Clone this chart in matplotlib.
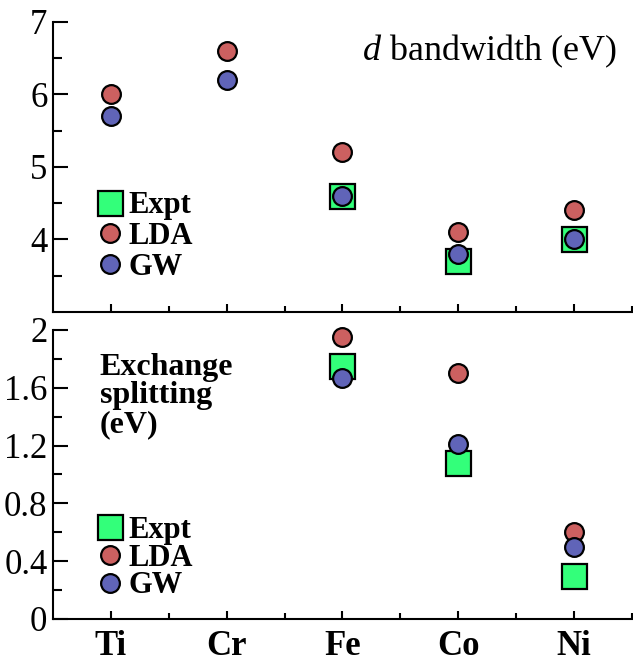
import matplotlib.pyplot as plt
from matplotlib.lines import Line2D
from matplotlib.ticker import MultipleLocator, FixedLocator, FuncFormatter

plt.rcParams['font.family'] = ['Liberation Serif', 'DejaVu Serif']
plt.rcParams['mathtext.fontset'] = 'custom'
plt.rcParams['mathtext.it'] = 'Liberation Serif:italic'
plt.rcParams['mathtext.rm'] = 'Liberation Serif'

elements = ['Ti', 'Cr', 'Fe', 'Co', 'Ni']

# d bandwidth (eV); None where no experiment point
bw_expt = [None, None, 4.6, 3.7, 4.0]
bw_lda = [6.0, 6.6, 5.2, 4.1, 4.4]
bw_gw = [5.7, 6.2, 4.6, 3.8, 4.0]

# exchange splitting (eV)
ex_expt = [None, None, 1.75, 1.08, 0.30]
ex_lda = [None, None, 1.95, 1.70, 0.60]
ex_gw = [None, None, 1.67, 1.21, 0.50]

c_expt = '#33ff7a'
c_lda = '#cc6060'
c_gw = '#6064b8'

sq = dict(marker='s', ms=18, mec='black', mew=1.6, ls='none', color=c_expt)
lda_st = dict(marker='o', ms=13.5, mec='black', mew=1.6, ls='none', color=c_lda)
gw_st = dict(marker='o', ms=13.5, mec='black', mew=1.6, ls='none', color=c_gw)

fig = plt.figure(figsize=(6.33, 6.65), dpi=100)
ax1 = fig.add_axes([0.0837, 0.5308, 0.9147, 0.4362])
ax2 = fig.add_axes([0.0837, 0.0692, 0.9147, 0.4346])


def pts(vals):
    xs = [i for i, v in enumerate(vals) if v is not None]
    ys = [v for v in vals if v is not None]
    return xs, ys


def style(ax, ex, ld, gw, spacing, anchor):
    ax.plot(*pts(ex), clip_on=False, zorder=3, **sq)
    ax.plot(*pts(ld), clip_on=False, zorder=4, **lda_st)
    ax.plot(*pts(gw), clip_on=False, zorder=5, **gw_st)
    ax.set_xlim(-0.5, 4.5)
    ax.spines['top'].set_visible(False)
    ax.spines['right'].set_visible(False)
    for s in ['left', 'bottom']:
        ax.spines[s].set_linewidth(1.5)
    ax.xaxis.set_major_locator(FixedLocator(range(len(elements))))
    ax.xaxis.set_minor_locator(FixedLocator([0.5, 1.5, 2.5, 3.5, 4.5]))
    ax.tick_params(axis='x', which='major', direction='in', length=6, width=1.5)
    ax.tick_params(axis='x', which='minor', direction='in', length=4.5, width=1.5)
    ax.tick_params(axis='y', which='major', direction='in', length=11, width=1.5,
                   labelsize=25, pad=4)
    ax.tick_params(axis='y', which='minor', direction='in', length=6.5, width=1.5)

    handles = [Line2D([], [], **sq), Line2D([], [], **lda_st), Line2D([], [], **gw_st)]
    ax.legend(handles, ['Expt', 'LDA', 'GW'], frameon=False,
              prop={'weight': 'bold', 'size': 22},
              handlelength=0.8, handletextpad=0.2, borderpad=0,
              borderaxespad=0, labelspacing=spacing,
              loc='upper left', bbox_to_anchor=anchor)


style(ax1, bw_expt, bw_lda, bw_gw, 0.06, (0.0774, 0.416))
style(ax2, ex_expt, ex_lda, ex_gw, -0.04, (0.0774, 0.357))

ax1.set_ylim(3, 7)
ax1.yaxis.set_major_locator(FixedLocator([4, 5, 6, 7]))
ax1.yaxis.set_minor_locator(FixedLocator([3.5, 4.5, 5.5, 6.5]))
ax1.tick_params(axis='x', labelbottom=False)
ax1.text(0.974, 0.869, r'$\mathit{d}$ bandwidth (eV)', transform=ax1.transAxes,
         ha='right', va='baseline', fontsize=26)

ax2.set_ylim(0, 2)
ax2.yaxis.set_major_locator(MultipleLocator(0.4))
ax2.yaxis.set_minor_locator(MultipleLocator(0.2))
ax2.yaxis.set_major_formatter(FuncFormatter(lambda v, p: f'{v:g}'))
ax2.set_xticklabels(elements, fontsize=25, fontweight='bold')
ax2.tick_params(axis='x', pad=8)
ax2.text(0.081, 0.92, 'Exchange\nsplitting\n(eV)', transform=ax2.transAxes,
         ha='left', va='top', fontsize=23, fontweight='bold', linespacing=0.97)

fig.savefig('out.png', dpi=100)
